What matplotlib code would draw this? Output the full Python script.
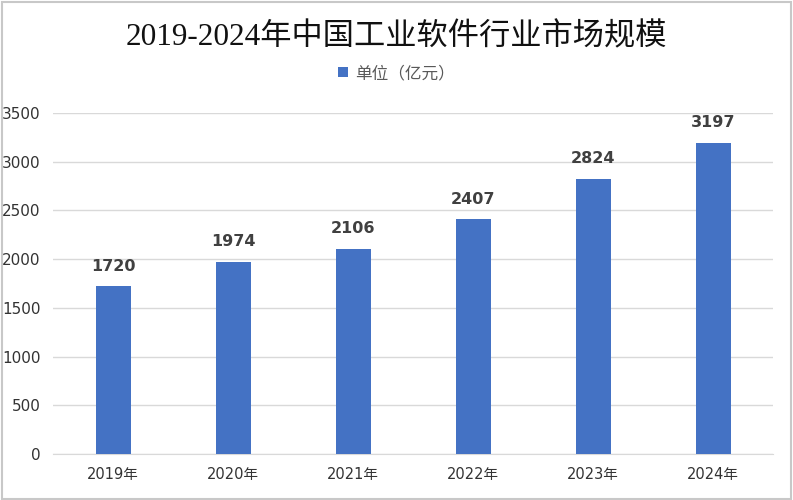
import matplotlib.pyplot as plt
from matplotlib.patches import Rectangle

# data
years = ['2019年', '2020年', '2021年', '2022年', '2023年', '2024年']
values = [1720, 1974, 2106, 2407, 2824, 3197]
y_ticks = [0, 500, 1000, 1500, 2000, 2500, 3000, 3500]

plt.rcParams['font.family'] = ['DejaVu Sans', 'Noto Sans CJK SC']

fig = plt.figure(figsize=(7.93, 5.0), dpi=100)
ax = fig.add_axes([0.067, 0.092, 0.908, 0.682])

bar_color = '#4472C4'
x = list(range(len(years)))
bars = ax.bar(x, values, width=0.29, color=bar_color, zorder=3, label='单位（亿元）')

for xi, v in zip(x, values):
    ax.text(xi, v + 130, str(v), ha='center', va='bottom', fontsize=11.5,
            fontweight='bold', color='#404040')

ax.set_xlim(-0.5, len(years) - 0.5)
ax.set_ylim(0, 3500)
ax.set_yticks(y_ticks)
ax.set_yticklabels([str(t) for t in y_ticks], fontsize=11, color='#333333')
ax.set_xticks(x)
ax.set_xticklabels(years, fontsize=10.5, color='#333333',
                   family=['DejaVu Sans', 'Noto Sans CJK SC'])

ax.grid(axis='y', color='#d9d9d9', linewidth=1, zorder=0)
for side in ['top', 'right', 'left']:
    ax.spines[side].set_visible(False)
ax.spines['bottom'].set_color('#d9d9d9')
ax.tick_params(axis='x', length=0, pad=9)
ax.tick_params(axis='y', length=0, pad=9)

# title and legend
fig.text(0.5, 0.925, '2019-2024年中国工业软件行业市场规模', ha='center', va='center',
         fontsize=22.5, color='#111111', family=['Liberation Serif', 'Noto Sans CJK SC'])
fig.legend(handles=[bars], labels=['单位（亿元）'], loc='center', bbox_to_anchor=(0.5, 0.853),
           frameon=False, handlelength=0.6, handleheight=0.6,
           handletextpad=0.4, labelcolor='#595959', prop={'family': 'Noto Sans CJK SC', 'size': 12})

# thin gray frame around the image
fig.patches.append(Rectangle((0.002, 0.003), 0.996, 0.994, transform=fig.transFigure,
                             fill=False, edgecolor='#c8c8c8', linewidth=1.5))

fig.savefig('out.png', dpi=100)
